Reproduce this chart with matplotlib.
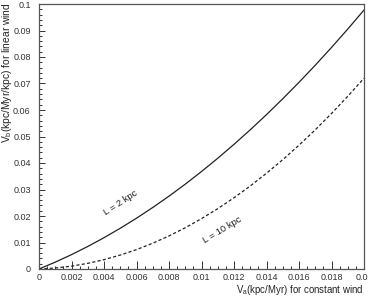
import matplotlib
matplotlib.use("Agg")
import matplotlib.pyplot as plt
from matplotlib.ticker import MultipleLocator, FixedLocator, FixedFormatter

plt.rcParams["font.family"] = ["Liberation Sans", "DejaVu Sans"]
plt.rcParams["mathtext.fontset"] = "custom"
plt.rcParams["mathtext.rm"] = "Liberation Sans"
plt.rcParams["mathtext.it"] = "Liberation Sans"

va = [0, 0.001, 0.002, 0.003, 0.004, 0.005, 0.006, 0.007, 0.008, 0.009, 0.010,
      0.011, 0.012, 0.013, 0.014, 0.015, 0.016, 0.017, 0.018, 0.019, 0.020]
vb_L2 = [0, 0.00259, 0.00542, 0.0085, 0.01181, 0.01537, 0.01917, 0.02321, 0.02749, 0.03201, 0.03678,
         0.04179, 0.04704, 0.05253, 0.05826, 0.06423, 0.07044, 0.0769, 0.0836, 0.09054, 0.09772]
vb_L10 = [0, 0.00037, 0.00108, 0.00213, 0.00352, 0.00525, 0.00732, 0.00973, 0.01248, 0.01557, 0.019,
          0.02277, 0.02688, 0.03133, 0.03612, 0.04125, 0.04672, 0.05253, 0.05868, 0.06517, 0.072]

xticks = [0, 0.002, 0.004, 0.006, 0.008, 0.01, 0.012, 0.014, 0.016, 0.018, 0.02]
xticklabels = ["0", "0.002", "0.004", "0.006", "0.008", "0.01", "0.012", "0.014", "0.016", "0.018", "0.02"]
yticks = [0, 0.01, 0.02, 0.03, 0.04, 0.05, 0.06, 0.07, 0.08, 0.09, 0.1]
yticklabels = ["0", "0.01", "0.02", "0.03", "0.04", "0.05", "0.06", "0.07", "0.08", "0.09", "0.1"]

fig = plt.figure(figsize=(3.68, 2.99), dpi=100)
ax = fig.add_axes([39/368, 1-269/299, 325/368, 265/299])
ax.plot(va, vb_L2, color="#222222", lw=0.9)
ax.plot(va, vb_L10, color="#222222", lw=0.9, ls=(0, (2.5, 1.8)))
ax.set_xlim(0, 0.02)
ax.set_ylim(0, 0.1)

ax.xaxis.set_major_locator(FixedLocator(xticks))
ax.xaxis.set_major_formatter(FixedFormatter(xticklabels))
ax.yaxis.set_major_locator(FixedLocator(yticks))
ax.yaxis.set_major_formatter(FixedFormatter(yticklabels))
ax.xaxis.set_minor_locator(MultipleLocator(0.0005))
ax.yaxis.set_minor_locator(MultipleLocator(0.002))
ax.tick_params(which="both", direction="in", top=False, right=False, colors="#333333", labelsize=6.5, width=0.7)
ax.tick_params(axis="x", which="major", length=6, pad=3)
ax.tick_params(axis="y", which="major", length=4, pad=6)
ax.tick_params(which="minor", length=2.5)
for s in ax.spines.values():
    s.set_color("#555555")
    s.set_linewidth(0.9)

ax.text(0.00505, 0.0249, "L = 2 kpc", rotation=33, ha="center", va="center", fontsize=6.8, color="#222222")
ax.text(0.01126, 0.0147, "L = 10 kpc", rotation=31, ha="center", va="center", fontsize=6.8, color="#222222")

fig.text(364/368, 1-290/299, "V$_a$(kpc/Myr) for constant wind", ha="right", va="center", fontsize=6.9, color="#222222")
fig.text(7/368, 1-2/299, "V$_b$(kpc/Myr/kpc) for linear wind", ha="center", va="top", rotation=90, fontsize=7.4, color="#222222")

fig.savefig("out.png", dpi=100)
